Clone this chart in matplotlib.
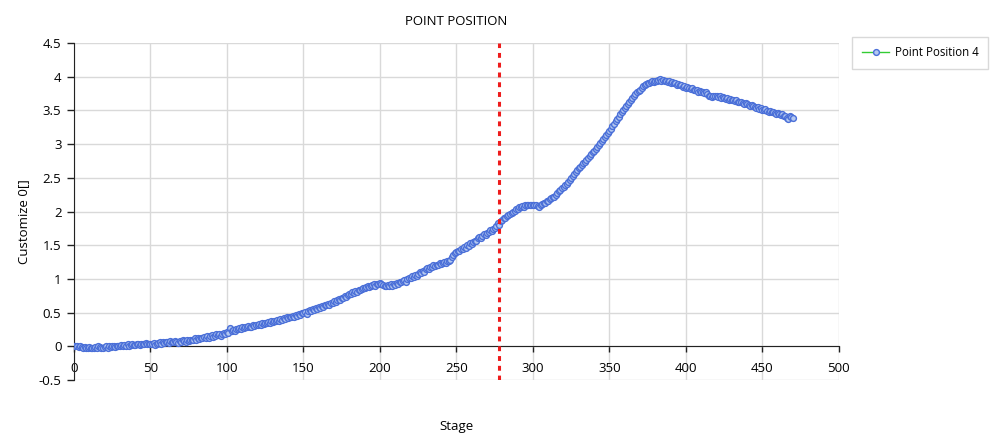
import numpy as np
import matplotlib
matplotlib.use("Agg")
import matplotlib.pyplot as plt

plt.rcParams['font.family'] = ['Open Sans', 'DejaVu Sans']

# _____________________ DATA _____________________________

stage = np.arange(0, 471)
point4 = [
    0.01, 0.00, 0.01, -0.01, 0.00, -0.01, -0.02, -0.01, -0.03, -0.02,
    -0.01, -0.02, -0.02, -0.03, -0.01, -0.02, 0.00, -0.01, -0.03, -0.02,
    -0.01, 0.00, -0.02, 0.01, -0.01, 0.00, 0.01, -0.01, 0.01, 0.00,
    0.01, 0.02, 0.00, 0.02, 0.01, 0.03, 0.01, 0.02, 0.03, 0.02,
    0.02, 0.03, 0.04, 0.02, 0.03, 0.04, 0.03, 0.05, 0.04, 0.03,
    0.04, 0.03, 0.05, 0.02, 0.04, 0.05, 0.06, 0.04, 0.07, 0.05,
    0.06, 0.07, 0.05, 0.08, 0.06, 0.07, 0.08, 0.07, 0.05, 0.08,
    0.07, 0.09, 0.08, 0.06, 0.09, 0.08, 0.10, 0.09, 0.10, 0.12,
    0.10, 0.12, 0.11, 0.13, 0.12, 0.14, 0.13, 0.15, 0.13, 0.15,
    0.17, 0.14, 0.16, 0.18, 0.17, 0.19, 0.16, 0.18, 0.20, 0.19,
    0.21, 0.20, 0.27, 0.22, 0.24, 0.22, 0.25, 0.26, 0.27, 0.26,
    0.28, 0.27, 0.29, 0.28, 0.30, 0.28, 0.29, 0.31, 0.30, 0.32,
    0.31, 0.33, 0.31, 0.34, 0.33, 0.35, 0.34, 0.36, 0.35, 0.37,
    0.36, 0.38, 0.37, 0.39, 0.38, 0.40, 0.39, 0.42, 0.40, 0.43,
    0.42, 0.44, 0.43, 0.45, 0.44, 0.47, 0.45, 0.48, 0.46, 0.50,
    0.49, 0.51, 0.48, 0.52, 0.54, 0.53, 0.55, 0.54, 0.57, 0.56,
    0.58, 0.57, 0.60, 0.59, 0.62, 0.61, 0.63, 0.62, 0.65, 0.64,
    0.67, 0.66, 0.68, 0.70, 0.69, 0.72, 0.71, 0.74, 0.73, 0.76,
    0.77, 0.78, 0.80, 0.79, 0.82, 0.81, 0.84, 0.83, 0.85, 0.87,
    0.86, 0.88, 0.89, 0.88, 0.90, 0.91, 0.92, 0.90, 0.93, 0.92,
    0.94, 0.93, 0.91, 0.90, 0.89, 0.91, 0.89, 0.92, 0.90, 0.93,
    0.91, 0.94, 0.92, 0.96, 0.95, 0.97, 0.99, 0.96, 1.00, 1.02,
    1.01, 1.04, 1.03, 1.06, 1.05, 1.08, 1.10, 1.09, 1.12, 1.11,
    1.14, 1.16, 1.15, 1.18, 1.17, 1.20, 1.19, 1.21, 1.20, 1.23,
    1.22, 1.24, 1.25, 1.23, 1.27, 1.26, 1.28, 1.32, 1.36, 1.38,
    1.40, 1.42, 1.41, 1.45, 1.44, 1.47, 1.46, 1.50, 1.49, 1.53,
    1.52, 1.55, 1.57, 1.56, 1.60, 1.62, 1.61, 1.64, 1.66, 1.65,
    1.68, 1.70, 1.72, 1.71, 1.74, 1.76, 1.78, 1.83, 1.80, 1.86,
    1.88, 1.90, 1.91, 1.93, 1.95, 1.96, 1.98, 1.99, 2.01, 2.03,
    2.04, 2.06, 2.07, 2.08, 2.07, 2.09, 2.10, 2.09, 2.10, 2.09,
    2.10, 2.09, 2.10, 2.08, 2.07, 2.09, 2.11, 2.13, 2.12, 2.15,
    2.16, 2.18, 2.20, 2.22, 2.21, 2.25, 2.28, 2.30, 2.32, 2.35,
    2.36, 2.39, 2.41, 2.44, 2.47, 2.50, 2.52, 2.55, 2.58, 2.61,
    2.64, 2.66, 2.69, 2.72, 2.74, 2.77, 2.80, 2.82, 2.85, 2.88,
    2.90, 2.93, 2.96, 2.99, 3.01, 3.05, 3.08, 3.11, 3.14, 3.17,
    3.20, 3.23, 3.27, 3.30, 3.34, 3.37, 3.40, 3.44, 3.47, 3.50,
    3.54, 3.57, 3.60, 3.63, 3.66, 3.69, 3.72, 3.74, 3.77, 3.79,
    3.81, 3.84, 3.86, 3.88, 3.89, 3.91, 3.90, 3.92, 3.93, 3.92,
    3.94, 3.93, 3.95, 3.96, 3.94, 3.95, 3.93, 3.94, 3.92, 3.93,
    3.91, 3.92, 3.90, 3.91, 3.88, 3.89, 3.87, 3.88, 3.85, 3.86,
    3.84, 3.85, 3.83, 3.82, 3.83, 3.81, 3.80, 3.81, 3.78, 3.79,
    3.77, 3.78, 3.76, 3.77, 3.74, 3.71, 3.72, 3.70, 3.72, 3.71,
    3.72, 3.70, 3.71, 3.69, 3.70, 3.68, 3.67, 3.69, 3.66, 3.67,
    3.65, 3.66, 3.64, 3.65, 3.63, 3.62, 3.63, 3.61, 3.60, 3.61,
    3.59, 3.58, 3.57, 3.58, 3.56, 3.55, 3.54, 3.55, 3.52, 3.53,
    3.51, 3.50, 3.52, 3.49, 3.48, 3.49, 3.47, 3.48, 3.46, 3.45,
    3.46, 3.44, 3.43, 3.44, 3.41, 3.42, 3.39, 3.38, 3.41, 3.40,
    3.39,
]
marker_stage = 278

x_ticks = np.arange(0, 501, 50)
y_ticks = np.arange(-0.5, 4.51, 0.5)

# ________________plot_____________________________

fig = plt.figure(figsize=(9.9, 4.44), dpi=100)
ax = fig.add_axes([0.0747, 0.1441, 0.7727, 0.7590])

ax.plot(stage, point4, color='#33cc33', linewidth=1.0,
        marker='o', markersize=4.2, markerfacecolor='#b4c8f0',
        markeredgecolor='#4a6fd8', markeredgewidth=1.0,
        label='Point Position 4', zorder=3)
ax.axvline(marker_stage, color='#ee1c1c', linewidth=2.2,
           linestyle=(0, (1.6, 1.6)), zorder=4)

ax.set_xlim(0, 500)
ax.set_ylim(-0.5, 4.5)
ax.set_xticks(x_ticks)
ax.set_yticks(y_ticks)
ax.set_xticklabels([str(v) for v in x_ticks])
ax.set_yticklabels(['-0.5', '0', '0.5', '1', '1.5', '2', '2.5', '3', '3.5', '4', '4.5'])

ax.grid(True, color='#d9d9d9', linewidth=1.0, zorder=0)
ax.set_axisbelow(True)
ax.spines['top'].set_visible(False)
ax.spines['right'].set_visible(False)
ax.spines['bottom'].set_position(('data', 0))
ax.spines['bottom'].set_color('#222222')
ax.spines['left'].set_color('#222222')
ax.spines['bottom'].set_zorder(2)

ax.tick_params(axis='x', direction='out', length=4, width=1, color='#222222',
               labelsize=9.5, pad=7)
ax.tick_params(axis='y', direction='out', length=5, width=1, color='#222222',
               labelsize=9.5, pad=4)

ax.set_title('POINT POSITION', fontsize=9.5, pad=13)
fig.text(0.024, 0.5, 'Customize 0[]', rotation=90, ha='center', va='center', fontsize=9.5)
fig.text(0.4608, 0.04, 'Stage', ha='center', va='center', fontsize=9.5)

leg = fig.legend(loc='upper left', bbox_to_anchor=(852 / 990, 1 - 36.5 / 444),
                 fontsize=8.3, frameon=True, fancybox=False, edgecolor='#d0d0d0',
                 handlelength=2.4, handletextpad=0.45, borderpad=0.85,
                 borderaxespad=0)
leg.get_frame().set_linewidth(1.0)

plt.savefig('out.png', dpi=100)
